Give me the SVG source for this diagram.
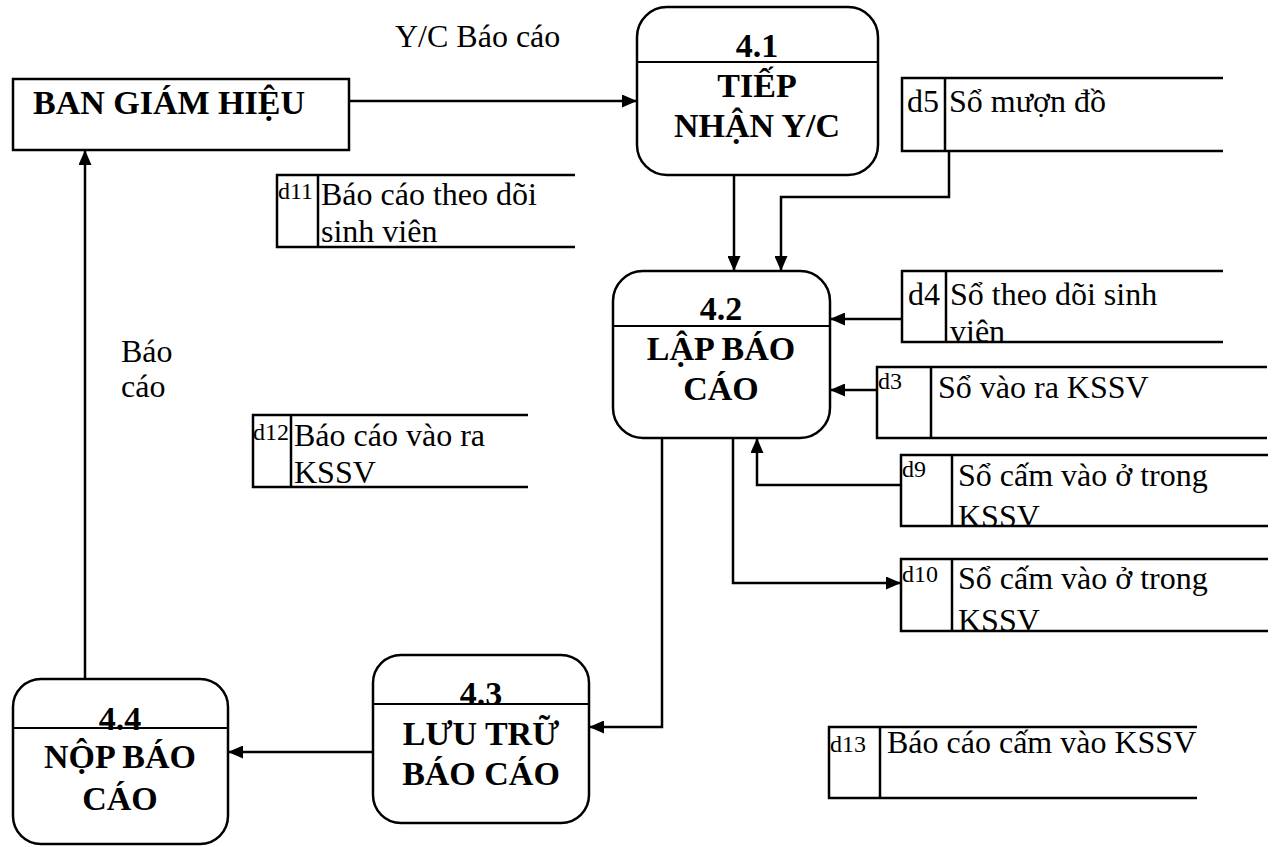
<svg xmlns="http://www.w3.org/2000/svg" width="1279" height="847" viewBox="0 0 1279 847">
<style>
text{font-family:"Liberation Serif","Times New Roman",serif;fill:#000}
.b{font-weight:bold;font-size:34px;text-anchor:middle}
.t{font-size:32px}
.s{font-size:24px}
.box{fill:#fff;stroke:#000;stroke-width:2.5}
.div{stroke:#000;stroke-width:2}
.ds{fill:none;stroke:#000;stroke-width:2.5}
.c{fill:none;stroke:#000;stroke-width:2.5;marker-end:url(#arr)}
</style>
<defs>
<marker id="arr" viewBox="0 0 15 13" refX="15" refY="6.5" markerWidth="15" markerHeight="13" markerUnits="userSpaceOnUse" orient="auto">
<path d="M0,0 L15,6.5 L0,13 z" fill="#000"/>
</marker>
</defs>
<rect width="1279" height="847" fill="#fff"/>

<g id="connectors">
<path class="c" d="M349,101 L637,101"/>
<path class="c" d="M734,175 L734,271"/>
<path class="c" d="M949,151 L949,197 L781,197 L781,271"/>
<path class="c" d="M902,319 L830,319"/>
<path class="c" d="M877,390 L830,390"/>
<path class="c" d="M901,485 L757,485 L757,438"/>
<path class="c" d="M733,438 L733,583 L901,583"/>
<path class="c" d="M662,438 L662,727 L589,727"/>
<path class="c" d="M373,752 L228,752"/>
<path class="c" d="M85,679 L85,150"/>
</g>

<g id="labels">
<text class="t" x="395" y="47">Y/C Báo cáo</text>
<text class="t" x="121" y="362">Báo</text>
<text class="t" x="121" y="397">cáo</text>
</g>

<g id="ban-giam-hieu">
<rect class="box" x="13" y="79" width="336" height="71"/>
<text x="33" y="114" style="font-weight:bold;font-size:34px">BAN GIÁM HIỆU</text>
</g>

<g id="p41">
<rect class="box" x="637" y="7" width="241" height="168" rx="30"/>
<line class="div" x1="637" y1="62" x2="878" y2="62"/>
<text class="b" x="757" y="57">4.1</text>
<text class="b" x="757" y="97">TIẾP</text>
<text class="b" x="757" y="137">NHẬN Y/C</text>
</g>

<g id="p42">
<rect class="box" x="613" y="271" width="217" height="167" rx="30"/>
<line class="div" x1="613" y1="326" x2="830" y2="326"/>
<text class="b" x="721" y="320">4.2</text>
<text class="b" x="721" y="360">LẬP BÁO</text>
<text class="b" x="721" y="400">CÁO</text>
</g>

<g id="p43">
<rect class="box" x="373" y="655" width="216" height="168" rx="28"/>
<text class="b" x="481" y="705">4.3</text>
<line class="div" x1="373" y1="704" x2="589" y2="704"/>
<text class="b" x="481" y="745">LƯU TRỮ</text>
<text class="b" x="481" y="785">BÁO CÁO</text>
</g>

<g id="p44">
<rect class="box" x="13" y="679" width="215" height="165" rx="28"/>
<text class="b" x="120" y="730">4.4</text>
<line class="div" x1="13" y1="728" x2="228" y2="728"/>
<text class="b" x="120" y="768">NỘP BÁO</text>
<text class="b" x="120" y="810">CÁO</text>
</g>

<g id="d5">
<path class="ds" d="M1223,78 L902,78 L902,151 L1223,151 M945,78 L945,151"/>
<text class="t" x="907" y="112">d5</text>
<text class="t" x="949" y="112">Sổ mượn đồ</text>
</g>

<g id="d4">
<path class="ds" d="M1223,271 L902,271 L902,342 L1223,342 M946,271 L946,342"/>
<text class="t" x="908" y="305">d4</text>
<text class="t" x="950" y="305">Sổ theo dõi sinh</text>
<text class="t" x="950" y="342">viên</text>
</g>

<g id="d3">
<path class="ds" d="M1267,367 L877,367 L877,438 L1267,438 M931,367 L931,438"/>
<text class="s" x="878" y="389">d3</text>
<text class="t" x="938" y="398">Sổ vào ra KSSV</text>
</g>

<g id="d9">
<path class="ds" d="M1268,455 L901,455 L901,526 L1268,526 M952,455 L952,526"/>
<text class="s" x="902" y="477">d9</text>
<text class="t" x="958" y="486">Sổ cấm vào ở trong</text>
<text class="t" x="958" y="527">KSSV</text>
</g>

<g id="d10">
<path class="ds" d="M1268,559 L901,559 L901,631 L1268,631 M952,559 L952,631"/>
<text class="s" x="902" y="582">d10</text>
<text class="t" x="958" y="589">Sổ cấm vào ở trong</text>
<text class="t" x="958" y="631">KSSV</text>
</g>

<g id="d11">
<path class="ds" d="M575,175 L277,175 L277,247 L575,247 M318,175 L318,247"/>
<text class="s" x="278" y="199">d11</text>
<text class="t" x="321" y="205">Báo cáo theo dõi</text>
<text class="t" x="321" y="242">sinh viên</text>
</g>

<g id="d12">
<path class="ds" d="M528,415 L253,415 L253,487 L528,487 M291,415 L291,487"/>
<text class="s" x="253" y="440">d12</text>
<text class="t" x="294" y="446">Báo cáo vào ra</text>
<text class="t" x="294" y="483">KSSV</text>
</g>

<g id="d13">
<path class="ds" d="M1197,727 L829,727 L829,798 L1197,798 M880,727 L880,798"/>
<text class="s" x="830" y="752">d13</text>
<text class="t" x="887" y="753">Báo cáo cấm vào KSSV</text>
</g>
</svg>
